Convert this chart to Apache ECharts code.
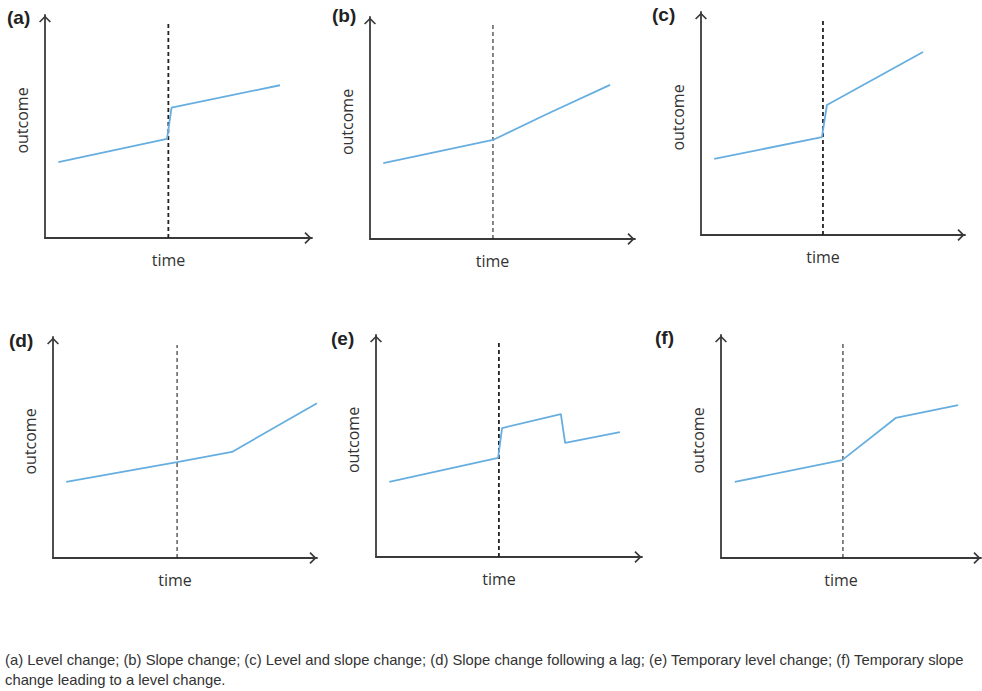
<!DOCTYPE html>
<html>
<head>
<meta charset="utf-8">
<script src="https://cdn.jsdelivr.net/npm/echarts@6/dist/echarts.min.js"></script>
<style>
html,body{margin:0;padding:0;background:#fff;}
#chart{width:982px;height:691px;}
</style>
</head>
<body>
<div id="chart"></div>
<script>
// ---- data (time 0..10, outcome 0..10 in each panel) ----
const panelLabels = ['(a)', '(b)', '(c)', '(d)', '(e)', '(f)'];
const xAxisName = 'time';
const yAxisName = 'outcome';
const trendA = [[0.5, 3.4], [4.57, 4.45], [4.74, 5.85], [8.8, 6.85]];
const trendB = [[0.5, 3.42], [2.6, 3.95], [4.64, 4.46], [6.68, 5.63], [9.06, 6.94]];
const trendC = [[0.5, 3.41], [4.58, 4.39], [4.77, 5.83], [8.41, 8.21]];
const trendD = [[0.5, 3.44], [4.7, 4.34], [6.78, 4.8], [10.0, 7.0]];
const trendE = [[0.5, 3.38], [4.59, 4.46], [4.74, 5.81], [6.95, 6.44], [7.11, 5.14], [9.17, 5.63]];
const trendF = [[0.53, 3.41], [4.66, 4.39], [6.72, 6.28], [9.12, 6.86]];
const interventionTimes = [4.62, 4.64, 4.62, 4.70, 4.62, 4.69];
const interventionTops = [9.7, 9.73, 9.64, 9.64, 9.68, 9.64];
const captionLines = [
  '(a) Level change; (b) Slope change; (c) Level and slope change; (d) Slope change following a lag; (e) Temporary level change; (f) Temporary slope',
  'change leading to a level change.'
];

// ---- layout / style ----
const trends = [trendA, trendB, trendC, trendD, trendE, trendF];
const grids = [
  {left: 45, top: 15, width: 267, height: 223},
  {left: 370, top: 17, width: 265, height: 222},
  {left: 701, top: 12, width: 264, height: 223},
  {left: 53, top: 337, width: 264, height: 221},
  {left: 376, top: 335, width: 266, height: 222},
  {left: 721, top: 335, width: 260, height: 223}
];
const labelPos = [[7, 8], [332, 6], [652, 5], [9, 331], [331, 329], [655, 328]];
const dashWidths = [1.8, 1.1, 1.8, 1.1, 1.8, 1.1];
const axisColor = '#3a3a3a';
const lineColor = '#67aee0';
const chevron = 'path://M0,10 L10,0 L20,10 L18,12 L10,4 L2,12 Z';

function axisLineCfg() {
  return {
    show: true, onZero: false,
    symbol: ['none', chevron], symbolSize: [12, 8], symbolOffset: [0, -4],
    lineStyle: {color: axisColor, width: 1.8}
  };
}

const xAxes = [], yAxes = [], series = [], graphics = [];
grids.forEach((g, i) => {
  xAxes.push({
    gridIndex: i, type: 'value', min: 0, max: 10,
    axisLine: axisLineCfg(), axisTick: {show: false}, axisLabel: {show: false}, splitLine: {show: false},
    name: xAxisName, nameLocation: 'middle', nameGap: 14,
    nameTextStyle: {fontFamily: 'Open Sans', fontSize: 16, color: '#333', padding: [0, 20, 0, 0]}
  });
  yAxes.push({
    gridIndex: i, type: 'value', min: 0, max: 10,
    axisLine: axisLineCfg(), axisTick: {show: false}, axisLabel: {show: false}, splitLine: {show: false},
    name: yAxisName, nameLocation: 'middle', nameGap: 15,
    nameTextStyle: {fontFamily: 'Open Sans', fontSize: 16, color: '#333', padding: [0, 0, 0, 12]}
  });
  series.push({
    type: 'line', xAxisIndex: i, yAxisIndex: i, symbol: 'none', silent: true,
    data: [[interventionTimes[i], 0], [interventionTimes[i], interventionTops[i]]],
    lineStyle: {color: '#222', width: dashWidths[i], type: [4, 3]}, z: 1
  });
  series.push({
    type: 'line', xAxisIndex: i, yAxisIndex: i, symbol: 'none', silent: true,
    data: trends[i], lineStyle: {color: lineColor, width: 1.8}, z: 2
  });
  graphics.push({
    type: 'text', left: labelPos[i][0], top: labelPos[i][1],
    style: {text: panelLabels[i], font: 'bold 19px "Liberation Sans", Arial, sans-serif', fill: '#222'}
  });
});
captionLines.forEach((t, k) => {
  graphics.push({
    type: 'text', left: 5, top: 652 + k * 20,
    style: {text: t, font: '14.8px "Liberation Sans", Arial, sans-serif', fill: '#333'}
  });
});

const chart = echarts.init(document.getElementById('chart'), null, {renderer: 'svg'});
chart.setOption({
  animation: false,
  backgroundColor: '#fff',
  grid: grids,
  xAxis: xAxes,
  yAxis: yAxes,
  series: series,
  graphic: graphics
});
</script>
</body>
</html>
